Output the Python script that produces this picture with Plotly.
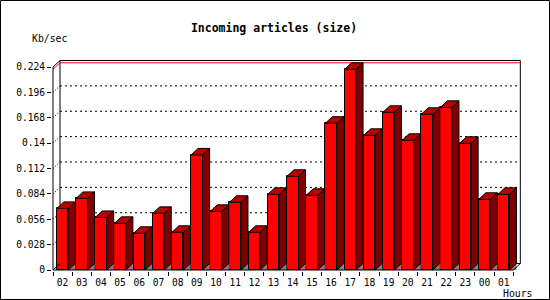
import plotly.graph_objects as go

# ---- data ----
hours = ["02", "03", "04", "05", "06", "07", "08", "09", "10", "11", "12", "13",
         "14", "15", "16", "17", "18", "19", "20", "21", "22", "23", "00", "01"]
kb_per_sec = [0.068, 0.079, 0.058, 0.0515, 0.0405, 0.0625, 0.0416, 0.127,
              0.0647, 0.0747, 0.0416, 0.0835, 0.1034, 0.0824, 0.162, 0.2215,
              0.1486, 0.174, 0.1431, 0.1718, 0.1795, 0.1398, 0.078, 0.0835]
y_tick_vals = [0, 0.028, 0.056, 0.084, 0.112, 0.14, 0.168, 0.196, 0.224]
y_tick_text = ["0", "0.028", "0.056", "0.084", "0.112", "0.14", "0.168", "0.196", "0.224"]
y_max = 0.224
title_text = "Incoming articles (size)"
y_title = "Kb/sec"
x_title = "Hours"

# ---- geometry ----
FW, FH = 550, 300
L, R, T, B = 52, 28, 58, 29
PW, PH = FW - L - R, FH - T - B
PX_X = 19.18          # pixels per category
PX_Y = 203 / y_max    # pixels per unit
DX = 7 / PX_X         # depth in data units
DY = 6.5 / PX_Y
BW = 0.6              # bar width
x_lo = -0.5 - 1 / PX_X
y_lo = -1 / PX_Y
x_range = [x_lo, x_lo + PW / PX_X]
y_range = [y_lo, y_lo + PH / PX_Y]
n = len(hours)
xs = list(range(n))
xL, xR = -0.5, n - 0.5

FONT = "DejaVu Sans Mono"
RED, DARK, TOP, GRAY = "#ff0000", "#800000", "#bb0000", "#808080"

fig = go.Figure()

# front faces
fig.add_trace(go.Bar(x=xs, y=kb_per_sec, width=BW,
                     marker=dict(color=RED, line=dict(color="black", width=1)),
                     hoverinfo="skip", showlegend=False))


def poly_trace(xx, yy, fill, line_w=1):
    fig.add_trace(go.Scatter(x=xx, y=yy, mode="lines", fill="toself", fillcolor=fill,
                             line=dict(color="black" if line_w else fill, width=line_w or 0.1),
                             hoverinfo="skip", showlegend=False))


gx, gy, sx, sy, tx, ty = [], [], [], [], [], []
for i, v in zip(xs, kb_per_sec):
    r = i + BW / 2
    l = i - BW / 2
    gx += [r, r + DX, r + DX, r, None]
    gy += [0, DY, 0, 0, None]
    sx += [r, r + DX, r + DX, r, r, None]
    sy += [0, DY, v + DY, v, 0, None]
    tx += [l, l + DX, r + DX, r, l, None]
    ty += [v, v + DY, v + DY, v, v, None]
poly_trace(gx, gy, GRAY, 0)
poly_trace(sx, sy, DARK)
poly_trace(tx, ty, TOP)

# front frame lines
fig.add_trace(go.Scatter(
    x=[xL + DX, xL, xL, xR, xR + DX],
    y=[y_max + DY, y_max, 0, 0, DY],
    mode="lines", line=dict(color="black", width=1), hoverinfo="skip", showlegend=False))
fig.add_trace(go.Scatter(
    x=[xL, xL + DX], y=[0, DY],
    mode="lines", line=dict(color="black", width=1), hoverinfo="skip", showlegend=False))

shapes = []
# back plane grid lines
for v in y_tick_vals[1:-1]:
    shapes.append(dict(type="line", xref="x", yref="y", layer="below",
                       x0=xL + DX, x1=xR + DX, y0=v + DY, y1=v + DY,
                       line=dict(color="black", width=1, dash="2px,3px")))
    shapes.append(dict(type="line", xref="x", yref="y", layer="below",
                       x0=xL, x1=xL + DX, y0=v, y1=v + DY,
                       line=dict(color="black", width=1, dash="1px,2px")))
# back plane outline
shapes.append(dict(type="path", xref="x", yref="y", layer="below",
                   path=f"M {xL+DX},{DY} L {xL+DX},{y_max+DY} L {xR+DX},{y_max+DY} L {xR+DX},{DY} Z",
                   line=dict(color="black", width=1)))
# maximum line
vmax = max(kb_per_sec)
shapes.append(dict(type="path", xref="x", yref="y", layer="below",
                   path=f"M {xL},{vmax} L {xL+DX},{vmax+DY} L {xR+DX},{vmax+DY}",
                   line=dict(color="red", width=1)))
# outer border of the picture
shapes.append(dict(type="rect", xref="paper", yref="paper",
                   x0=(0.5 - L) / PW, x1=(FW - 0.5 - L) / PW,
                   y0=(FH - B - (FH - 0.5)) / PH, y1=(FH - B - 0.5) / PH,
                   line=dict(color="black", width=1)))

fig.update_layout(
    width=FW, height=FH,
    margin=dict(l=L, r=R, t=T, b=B, pad=0),
    paper_bgcolor="white", plot_bgcolor="white",
    bargap=0,
    shapes=shapes,
    title=dict(text=title_text, x=274 / FW, xref="container", xanchor="center",
               y=1 - 28 / FH, yref="container", yanchor="middle",
               font=dict(family=FONT, size=11.5, color="black", weight="bold")),
    xaxis=dict(range=x_range, tickmode="array", tickvals=xs, ticktext=hours,
               ticks="", showgrid=False, zeroline=False, showline=False,
               ticklabelstandoff=4,
               tickfont=dict(family=FONT, size=9.6, color="black"),
               minor=dict(tickmode="linear", tick0=-0.5, dtick=1, ticks="outside",
                          ticklen=4, tickcolor="black", showgrid=False),
               fixedrange=True),
    yaxis=dict(range=y_range, tickmode="array", tickvals=y_tick_vals, ticktext=y_tick_text,
               ticks="outside", ticklen=4, tickcolor="black",
               showgrid=False, zeroline=False, showline=False,
               tickfont=dict(family=FONT, size=9.6, color="black"),
               fixedrange=True),
    annotations=[
        dict(text=y_title, xref="paper", yref="paper", showarrow=False,
             x=(30 - L) / PW, xanchor="left", y=(FH - B - 38) / PH, yanchor="middle",
             font=dict(family=FONT, size=9.8, color="black")),
        dict(text=x_title, xref="paper", yref="paper", showarrow=False,
             x=(535 - L) / PW, xanchor="right", y=(FH - B - 293) / PH, yanchor="middle",
             font=dict(family=FONT, size=9.8, color="black")),
    ],
)

fig.write_html("out.html")
